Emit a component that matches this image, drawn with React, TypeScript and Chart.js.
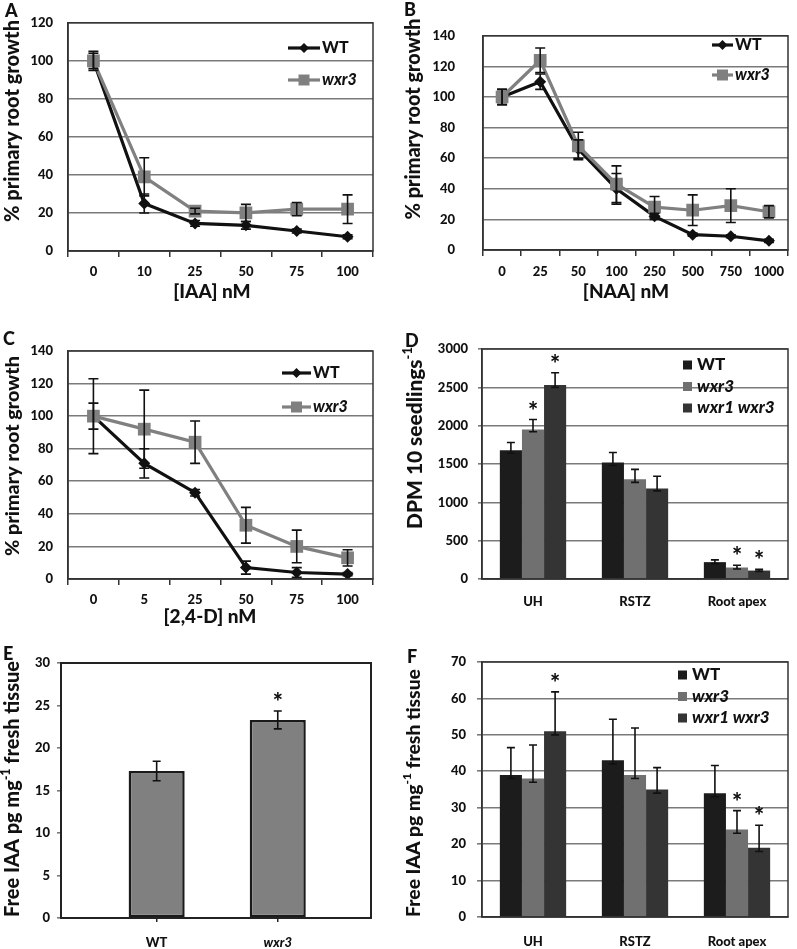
import React, { useEffect, useRef } from 'react';
import { Chart, registerables } from 'chart.js';
Chart.register(...registerables);

const FONT = 'Lato, "Open Sans", "DejaVu Sans", sans-serif';
const W = '900';
const INK = '#111111';

// ---------- Panel A : IAA ----------
const iaaDoses = ['0', '10', '25', '50', '75', '100'];
const iaaWT = [100, 25, 14.5, 13.5, 10.5, 7.5];
const iaaWTErr = [4, 5, 1.5, 2, 1, 1];
const iaaWxr3 = [100, 39, 21, 20, 22, 22];
const iaaWxr3Err = [5, 10, 1.5, 4.5, 3.5, 7.5];

// ---------- Panel B : NAA ----------
const naaDoses = ['0', '25', '50', '100', '250', '500', '750', '1000'];
const naaWT = [100, 110, 66, 40, 22, 10, 9, 6];
const naaWTErr = [5, 5, 6, 10, 2, 1, 1, 1];
const naaWxr3 = [100, 124, 68, 43, 28, 26, 29, 25];
const naaWxr3Err = [5, 8, 9, 12, 7, 10, 11, 4];

// ---------- Panel C : 2,4-D ----------
const tdDoses = ['0', '5', '25', '50', '75', '100'];
const tdWT = [100, 71, 53, 7, 4, 3];
const tdWTErr = [8, 9, 2, 4, 3, 1];
const tdWxr3 = [100, 92, 84, 33, 20, 13];
const tdWxr3Err = [23, 24, 13, 11, 10, 5];

// ---------- Panel D : DPM ----------
const tissues = ['UH', 'RSTZ', 'Root apex'];
const dpmWT = [1680, 1520, 220];
const dpmWTUp = [100, 130, 30];
const dpmWTDn = [40, 40, 20];
const dpmWxr3 = [1950, 1300, 150];
const dpmWxr3Up = [130, 130, 30];
const dpmWxr3Dn = [30, 40, 20];
const dpmDbl = [2530, 1180, 110];
const dpmDblUp = [160, 160, 15];
const dpmDblDn = [30, 30, 10];
const dpmWxr3Star = [true, false, true];
const dpmDblStar = [true, false, true];

// ---------- Panel E : free IAA whole ----------
const eGenotypes = ['WT', 'wxr3'];
const eIAA = [17.3, 23.3];
const eIAAErr = [1.15, 1.05];
const eIAAStar = [false, true];

// ---------- Panel F : free IAA by tissue ----------
const fWT = [39, 43, 34];
const fWTUp = [7.5, 11.3, 7.6];
const fWTDn = [1, 1, 1];
const fWxr3 = [38, 39, 24];
const fWxr3Up = [9.2, 12.9, 5.2];
const fWxr3Dn = [1, 1, 1];
const fDbl = [51, 35, 19];
const fDblUp = [10.8, 6, 6.2];
const fDblDn = [1, 1, 1];
const fWxr3Star = [false, false, true];
const fDblStar = [true, false, true];

// ---------- styling ----------
const C_WT_LINE = '#111111';
const C_WXR3_LINE = '#808080';
const C_WT_BAR = '#1c1c1c';
const C_WXR3_BAR = '#707070';
const C_DBL_BAR = '#343434';
const GRID = '#7a7a7a';
const BORDER = '#333333';

type Seg = { t: string; it?: boolean; sup?: boolean };

function segFont(size: number, it?: boolean, sup?: boolean) {
  return `${it ? 'italic ' : ''}${W} ${sup ? size * 0.62 : size}px ${FONT}`;
}
function segsWidth(ctx: CanvasRenderingContext2D, segs: Seg[], size: number) {
  let w = 0;
  for (const s of segs) {
    ctx.font = segFont(size, s.it, s.sup);
    w += ctx.measureText(s.t).width;
  }
  return w;
}
function drawSegs(ctx: CanvasRenderingContext2D, segs: Seg[], x: number, y: number, size: number, align: 'left' | 'center') {
  const w = segsWidth(ctx, segs, size);
  let cx = align === 'center' ? x - w / 2 : x;
  ctx.textBaseline = 'middle';
  ctx.textAlign = 'left';
  for (const s of segs) {
    ctx.font = segFont(size, s.it, s.sup);
    ctx.fillText(s.t, cx, s.sup ? y - size * 0.35 : y);
    cx += ctx.measureText(s.t).width;
  }
}

function labelSegs(label: string): Seg[] {
  return [{ t: label, it: label !== 'WT' }];
}

type Decor = {
  letter: string;
  letterXY: [number, number];
  yTitle: Seg[];
  yTitleXY: [number, number];
  yTitleLen: number;
  xTitle?: Seg[];
  xTitleXY?: [number, number];
  legend?: { type: 'line' | 'box'; x: number; y: number; dy: number; len: number; size: number };
  cap: number;
  boxColor: string;
  boxWidth: number;
};

function makeDecor(cfg: Decor) {
  return {
    id: 'decor',
    afterDatasetsDraw(chart: any) {
      const ctx: CanvasRenderingContext2D = chart.ctx;
      const ys = chart.scales.y;
      ctx.save();
      chart.data.datasets.forEach((ds: any, di: number) => {
        const meta = chart.getDatasetMeta(di);
        const up: number[] | undefined = ds.errUp;
        const dn: number[] | undefined = ds.errDn || ds.errUp;
        meta.data.forEach((el: any, i: number) => {
          const raw = ds.data[i];
          const v = typeof raw === 'number' ? raw : raw.y;
          let topVal = v;
          if (up) {
            topVal = v + up[i];
            const yt = ys.getPixelForValue(v + up[i]);
            const yb = ys.getPixelForValue(v - (dn ? dn[i] : 0));
            ctx.strokeStyle = '#111';
            ctx.lineWidth = 1.6;
            ctx.beginPath();
            ctx.moveTo(el.x, yt);
            ctx.lineTo(el.x, yb);
            ctx.moveTo(el.x - cfg.cap, yt);
            ctx.lineTo(el.x + cfg.cap, yt);
            ctx.moveTo(el.x - cfg.cap, yb);
            ctx.lineTo(el.x + cfg.cap, yb);
            ctx.stroke();
          }
          if (ds.stars && ds.stars[i]) {
            const yt = ys.getPixelForValue(topVal);
            ctx.fillStyle = INK;
            ctx.font = `${W} 24px ${FONT}`;
            ctx.textAlign = 'center';
            ctx.textBaseline = 'alphabetic';
            ctx.fillText('*', el.x, yt);
          }
        });
      });
      ctx.restore();
    },
    afterDraw(chart: any) {
      const ctx: CanvasRenderingContext2D = chart.ctx;
      const a = chart.chartArea;
      ctx.save();
      ctx.strokeStyle = cfg.boxColor;
      ctx.lineWidth = cfg.boxWidth;
      ctx.strokeRect(a.left, a.top, a.right - a.left, a.bottom - a.top);
      ctx.fillStyle = INK;
      ctx.font = `${W} 18px ${FONT}`;
      ctx.textAlign = 'left';
      ctx.textBaseline = 'top';
      ctx.fillText(cfg.letter, cfg.letterXY[0], cfg.letterXY[1]);
      // y title scaled to its measured length in the reference
      const tSize = (20 * cfg.yTitleLen) / segsWidth(ctx, cfg.yTitle, 20);
      ctx.save();
      ctx.translate(cfg.yTitleXY[0], cfg.yTitleXY[1]);
      ctx.rotate(-Math.PI / 2);
      drawSegs(ctx, cfg.yTitle, 0, 0, tSize, 'center');
      ctx.restore();
      if (cfg.xTitle && cfg.xTitleXY) {
        drawSegs(ctx, cfg.xTitle, cfg.xTitleXY[0], cfg.xTitleXY[1], 19, 'center');
      }
      const lg = cfg.legend;
      if (lg) {
        chart.data.datasets.forEach((ds: any, i: number) => {
          const y = lg.y + i * lg.dy;
          if (lg.type === 'line') {
            ctx.strokeStyle = ds.borderColor;
            ctx.lineWidth = ds.borderWidth;
            ctx.beginPath();
            ctx.moveTo(lg.x, y);
            ctx.lineTo(lg.x + lg.len, y);
            ctx.stroke();
            const cx = lg.x + lg.len / 2;
            ctx.fillStyle = ds.pointBackgroundColor;
            ctx.beginPath();
            if (ds.pointStyle === 'rectRot') {
              const r = 5;
              ctx.moveTo(cx - r, y);
              ctx.lineTo(cx, y - r);
              ctx.lineTo(cx + r, y);
              ctx.lineTo(cx, y + r);
              ctx.closePath();
            } else {
              const h = 5.5;
              ctx.rect(cx - h, y - h, 2 * h, 2 * h);
            }
            ctx.fill();
            ctx.fillStyle = INK;
            drawSegs(ctx, labelSegs(ds.label), lg.x + lg.len + 2, y, lg.size, 'left');
          } else {
            ctx.fillStyle = ds.backgroundColor;
            ctx.fillRect(lg.x, y - 4.5, 9, 9);
            ctx.fillStyle = INK;
            drawSegs(ctx, labelSegs(ds.label), lg.x + 14, y, lg.size, 'left');
          }
        });
      }
      ctx.restore();
    },
  };
}

type Box = { x: number; y: number; w: number; h: number };

function yAxis(max: number, step: number, yw: number, pad: number, tick: number, grid: boolean) {
  return {
    min: 0,
    max,
    ticks: { stepSize: step, padding: pad, color: INK, font: { family: FONT, size: 13, weight: W }, callback: (v: any) => String(v) },
    grid: {
      display: true,
      drawOnChartArea: grid,
      drawTicks: tick > 0,
      tickLength: tick,
      color: GRID,
      lineWidth: 1.6,
    },
    border: { display: true, color: BORDER, width: 1.5 },
    afterFit: (s: any) => {
      s.width = yw;
    },
  };
}

function xCatAxis(xh: number, pad: number, tick: number) {
  return {
    type: 'category',
    offset: true,
    ticks: { padding: pad, color: INK, maxRotation: 0, autoSkip: false, font: { family: FONT, size: 13, weight: W } },
    grid: { display: true, offset: true, drawOnChartArea: false, drawTicks: tick > 0, tickLength: tick, color: BORDER, lineWidth: 1.5 },
    border: { display: true, color: BORDER, width: 1.5 },
    afterFit: (s: any) => {
      s.height = xh;
    },
  };
}

function lineDatasets(wt: number[], wtErr: number[], mu: number[], muErr: number[]) {
  return [
    {
      label: 'WT',
      data: wt,
      errUp: wtErr,
      borderColor: C_WT_LINE,
      backgroundColor: C_WT_LINE,
      borderWidth: 3.2,
      pointStyle: 'rectRot',
      pointRadius: 6,
      pointBackgroundColor: C_WT_LINE,
      pointBorderColor: C_WT_LINE,
      pointBorderWidth: 0,
      order: 1,
    },
    {
      label: 'wxr3',
      data: mu,
      errUp: muErr,
      borderColor: C_WXR3_LINE,
      backgroundColor: C_WXR3_LINE,
      borderWidth: 3.2,
      pointStyle: 'rect',
      pointRadius: 9,
      pointBackgroundColor: C_WXR3_LINE,
      pointBorderColor: C_WXR3_LINE,
      pointBorderWidth: 0,
      order: 0,
    },
  ];
}

function lineConfig(labels: string[], datasets: any[], pad: any, yw: number, xh: number, yMax: number, yPad: number, xPad: number, decor: Decor) {
  return {
    type: 'line',
    data: { labels, datasets },
    options: {
      animation: false,
      responsive: true,
      maintainAspectRatio: false,
      layout: { padding: { left: 0, ...pad, bottom: 0 } },
      plugins: { legend: { display: false }, tooltip: { enabled: false } },
      scales: {
        x: xCatAxis(xh, xPad, 6),
        y: yAxis(yMax, 20, yw, yPad, 0, true),
      },
    },
    plugins: [makeDecor(decor)],
  };
}

function barDatasets(vals: number[][], ups: number[][], dns: number[][], stars: (boolean[] | null)[]) {
  const labels = ['WT', 'wxr3', 'wxr1 wxr3'];
  const colors = [C_WT_BAR, C_WXR3_BAR, C_DBL_BAR];
  return vals.map((v, i) => ({
    label: labels[i],
    data: v,
    errUp: ups[i],
    errDn: dns[i],
    stars: stars[i],
    backgroundColor: colors[i],
    borderWidth: 0,
    barPercentage: 1,
    categoryPercentage: 0.65,
  }));
}

function barConfig(datasets: any[], pad: any, yw: number, xh: number, yMax: number, step: number, yPad: number, yTick: number, xPad: number, decor: Decor) {
  return {
    type: 'bar',
    data: { labels: tissues, datasets },
    options: {
      animation: false,
      responsive: true,
      maintainAspectRatio: false,
      layout: { padding: { left: 0, ...pad, bottom: 0 } },
      plugins: { legend: { display: false }, tooltip: { enabled: false } },
      scales: {
        x: xCatAxis(xh, xPad, 0),
        y: yAxis(yMax, step, yw, yPad, yTick, true),
      },
    },
    plugins: [makeDecor(decor)],
  };
}

const FREE_IAA_TITLE: Seg[] = [{ t: 'Free IAA pg mg' }, { t: '-1', sup: true }, { t: ' fresh tissue' }];

function configA() {
  return lineConfig(iaaDoses, lineDatasets(iaaWT, iaaWTErr, iaaWxr3, iaaWxr3Err), { top: 20, right: 27 }, 68, 59, 120, 15, 7, {
    letter: 'A',
    letterXY: [5, 2],
    yTitle: [{ t: '% primary root growth' }],
    yTitleXY: [13, 121],
    yTitleLen: 202,
    xTitle: [{ t: '[IAA] nM' }],
    xTitleXY: [212, 292],
    legend: { type: 'line', x: 288, y: 48, dy: 32, len: 32, size: 16 },
    cap: 5,
    boxColor: BORDER,
    boxWidth: 1.5,
  });
}
function configB() {
  return lineConfig(naaDoses, lineDatasets(naaWT, naaWTErr, naaWxr3, naaWxr3Err), { top: 21, right: 6 }, 83, 60, 140, 28, 8, {
    letter: 'B',
    letterXY: [4, 1],
    yTitle: [{ t: '% primary root growth' }],
    yTitleXY: [14, 119],
    yTitleLen: 201,
    xTitle: [{ t: '[NAA] nM' }],
    xTitleXY: [226, 292],
    legend: { type: 'line', x: 312, y: 45, dy: 30, len: 21, size: 16 },
    cap: 5,
    boxColor: BORDER,
    boxWidth: 1.5,
  });
}
function configC() {
  return lineConfig(tdDoses, lineDatasets(tdWT, tdWTErr, tdWxr3, tdWxr3Err), { top: 41, right: 27 }, 68, 61, 140, 15, 7, {
    letter: 'C',
    letterXY: [3, 20],
    yTitle: [{ t: '% primary root growth' }],
    yTitleXY: [13, 146],
    yTitleLen: 200,
    xTitle: [{ t: '[2,4-D] nM' }],
    xTitleXY: [210, 307],
    legend: { type: 'line', x: 282, y: 63, dy: 34, len: 29, size: 16 },
    cap: 5,
    boxColor: BORDER,
    boxWidth: 1.5,
  });
}
function configD() {
  const ds = barDatasets(
    [dpmWT, dpmWxr3, dpmDbl],
    [dpmWTUp, dpmWxr3Up, dpmDblUp],
    [dpmWTDn, dpmWxr3Dn, dpmDblDn],
    [null, dpmWxr3Star, dpmDblStar]
  );
  return barConfig(ds, { top: 39, right: 9 }, 82, 41, 3000, 500, 10, 4, 15, {
    letter: 'D',
    letterXY: [5, 22],
    yTitle: [{ t: 'DPM 10 seedlings' }, { t: '-1', sup: true }],
    yTitleXY: [15, 128],
    yTitleLen: 182,
    legend: { type: 'box', x: 283, y: 55, dy: 21.5, len: 9, size: 17 },
    cap: 4,
    boxColor: BORDER,
    boxWidth: 1.5,
  });
}
function configE() {
  return {
    type: 'bar',
    data: {
      datasets: [
        {
          label: 'Free IAA',
          data: eIAA.map((v, i) => ({ x: i, y: v })),
          errUp: eIAAErr,
          stars: eIAAStar,
          backgroundColor: '#808080',
          borderColor: '#1a1a1a',
          borderWidth: 2.5,
          borderSkipped: false,
          barPercentage: 1,
          categoryPercentage: 0.463,
        },
      ],
    },
    options: {
      animation: false,
      responsive: true,
      maintainAspectRatio: false,
      layout: { padding: { left: 0, top: 43, right: 29, bottom: 0 } },
      plugins: { legend: { display: false }, tooltip: { enabled: false } },
      scales: {
        x: {
          type: 'linear',
          offset: false,
          min: -0.79,
          max: 1.77,
          afterBuildTicks: (s: any) => {
            s.ticks = s.ticks.filter((t: any) => t.value === 0 || t.value === 1);
          },
          ticks: {
            stepSize: 1,
            padding: 13,
            color: INK,
            maxRotation: 0,
            autoSkip: false,
            callback: (v: any) => (v === 0 || v === 1 ? eGenotypes[v] : ''),
            font: (c: any) => ({ family: FONT, size: 13, weight: W, style: c.tick && c.tick.value === 1 ? 'italic' : 'normal' }),
          },
          grid: { display: true, offset: false, drawOnChartArea: false, drawTicks: true, tickLength: 4, color: '#222', lineWidth: 1.5 },
          border: { display: true, color: '#222', width: 2 },
          afterFit: (s: any) => {
            s.height = 31;
          },
        },
        y: { ...yAxis(30, 5, 61, 7, 4, false), border: { display: true, color: '#222', width: 2 } },
      },
    },
    plugins: [
      makeDecor({
        letter: 'E',
        letterXY: [3, 25],
        yTitle: FREE_IAA_TITLE,
        yTitleXY: [13, 169],
        yTitleLen: 256,
        cap: 4,
        boxColor: '#222',
        boxWidth: 2,
      }),
    ],
  };
}
function configF() {
  const ds = barDatasets([fWT, fWxr3, fDbl], [fWTUp, fWxr3Up, fDblUp], [fWTDn, fWxr3Dn, fDblDn], [null, fWxr3Star, fDblStar]);
  return barConfig(ds, { top: 42, right: 9 }, 82, 32, 70, 10, 11, 5, 17, {
    letter: 'F',
    letterXY: [7, 28],
    yTitle: FREE_IAA_TITLE,
    yTitleXY: [14, 173],
    yTitleLen: 248,
    legend: { type: 'box', x: 278, y: 55, dy: 21.5, len: 9, size: 17 },
    cap: 4,
    boxColor: BORDER,
    boxWidth: 1.5,
  });
}

function Panel({ box, make }: { box: Box; make: () => any }) {
  const ref = useRef<HTMLCanvasElement>(null);
  useEffect(() => {
    const chart = new Chart(ref.current as HTMLCanvasElement, make());
    return () => chart.destroy();
  }, []);
  return (
    <div style={{ position: 'absolute', left: box.x, top: box.y, width: box.w, height: box.h }}>
      <canvas ref={ref} />
    </div>
  );
}

export default function App() {
  return (
    <div style={{ position: 'relative', width: 797, height: 949, background: '#fff', overflow: 'hidden' }}>
      <style>{'body{margin:0;background:#fff}'}</style>
      <Panel box={{ x: 0, y: 0, w: 400, h: 310 }} make={configA} />
      <Panel box={{ x: 400, y: 0, w: 397, h: 310 }} make={configB} />
      <Panel box={{ x: 0, y: 310, w: 400, h: 330 }} make={configC} />
      <Panel box={{ x: 400, y: 310, w: 397, h: 310 }} make={configD} />
      <Panel box={{ x: 0, y: 620, w: 400, h: 329 }} make={configE} />
      <Panel box={{ x: 400, y: 620, w: 397, h: 329 }} make={configF} />
    </div>
  );
}
